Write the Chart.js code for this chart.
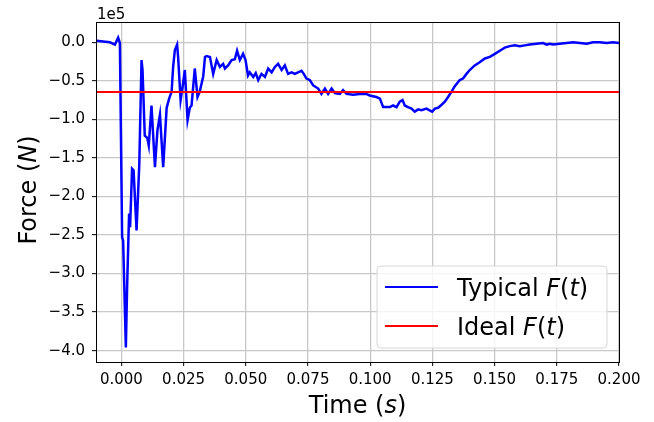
<!DOCTYPE html>
<html>
<head>
<meta charset="utf-8">
<script src="https://cdn.jsdelivr.net/npm/chart.js@4/dist/chart.umd.min.js"></script>
<style>
  html, body { margin: 0; padding: 0; background: #ffffff; }
  #wrap { width: 654px; height: 422px; }
</style>
</head>
<body>
<div id="wrap"><canvas id="c" width="654" height="422"></canvas></div>
<script>
// ---- data (force in units of 1e5 N, time in s) ----
const time = [
  -0.0099,-0.0074,-0.0046,-0.0026,-0.0013,-0.0006,0.0003,0.0007,0.0018,0.0023,
  0.0031,0.0035,0.0043,0.0049,0.0061,0.0072,0.0081,0.0085,0.0094,0.0104,
  0.0110,0.0121,0.0135,0.0145,0.0155,0.0168,0.0182,0.0192,0.0202,0.0208,
  0.0215,0.0224,0.0228,0.0238,0.0246,0.0255,0.0266,0.0275,0.0282,0.0295,
  0.0306,0.0315,0.0329,0.0336,0.0342,0.0356,0.0369,0.0383,0.0396,0.0409,
  0.0416,0.0429,0.0443,0.0456,0.0465,0.0476,0.0489,0.0499,0.0509,0.0516,
  0.0530,0.0540,0.0550,0.0563,0.0577,0.0590,0.0604,0.0617,0.0630,0.0644,
  0.0657,0.0670,0.0684,0.0697,0.0710,0.0724,0.0733,0.0744,0.0757,0.0771,
  0.0791,0.0804,0.0818,0.0831,0.0845,0.0858,0.0878,0.0891,0.0905,0.0931,
  0.0958,0.0985,0.0998,0.1025,0.1039,0.1052,0.1079,0.1092,0.1106,0.1119,
  0.1130,0.1139,0.1152,0.1166,0.1179,0.1193,0.1206,0.1226,0.1237,0.1249,
  0.1260,0.1273,0.1287,0.1300,0.1313,0.1327,0.1340,0.1360,0.1373,0.1387,
  0.1400,0.1420,0.1440,0.1461,0.1481,0.1501,0.1521,0.1541,0.1561,0.1581,
  0.1601,0.1621,0.1641,0.1668,0.1695,0.1709,0.1722,0.1735,0.1762,0.1789,
  0.1816,0.1843,0.1870,0.1896,0.1923,0.1950,0.1976,0.2000
];
const typicalForce = [
  0.02,0.01,0.00,-0.03,0.06,-0.01,-2.53,-2.57,-3.96,-3.18,
  -2.22,-2.40,-1.64,-1.66,-2.44,-1.58,-0.23,-0.36,-1.21,-1.24,
  -1.34,-0.82,-1.62,-1.14,-0.94,-1.62,-0.85,-0.73,-0.64,-0.32,
  -0.10,-0.03,-0.19,-0.75,-0.58,-0.36,-1.01,-0.85,-0.82,-0.34,
  -0.71,-0.64,-0.44,-0.19,-0.18,-0.19,-0.41,-0.23,-0.32,-0.28,
  -0.34,-0.30,-0.23,-0.22,-0.11,-0.23,-0.15,-0.23,-0.43,-0.39,
  -0.45,-0.40,-0.49,-0.41,-0.45,-0.34,-0.39,-0.32,-0.28,-0.36,
  -0.30,-0.41,-0.39,-0.41,-0.39,-0.37,-0.41,-0.47,-0.49,-0.56,
  -0.60,-0.67,-0.60,-0.67,-0.60,-0.66,-0.67,-0.62,-0.67,-0.68,
  -0.67,-0.67,-0.69,-0.71,-0.73,-0.84,-0.84,-0.82,-0.84,-0.77,
  -0.75,-0.82,-0.84,-0.86,-0.90,-0.87,-0.88,-0.86,-0.88,-0.90,
  -0.86,-0.85,-0.81,-0.77,-0.71,-0.64,-0.57,-0.49,-0.47,-0.41,
  -0.36,-0.30,-0.26,-0.21,-0.19,-0.15,-0.11,-0.07,-0.05,-0.04,
  -0.05,-0.04,-0.03,-0.02,-0.01,-0.03,-0.02,-0.03,-0.02,-0.01,
  0.00,-0.01,-0.02,0.00,0.00,-0.01,0.00,-0.01
];
const idealTime = [-0.0102, 0.2];
const idealForce = [-0.645, -0.645];
const xTicks = [0, 0.025, 0.05, 0.075, 0.1, 0.125, 0.15, 0.175, 0.2];
const yTicks = [-4.0, -3.5, -3.0, -2.5, -2.0, -1.5, -1.0, -0.5, 0.0];
const xRange = [-0.0102, 0.2];
const yRange = [-4.147, 0.263];
const scaleLabel = '1e5';
const seriesNames = ['Typical', 'Ideal'];

const FONT = 'DejaVu Sans';

function drawMixed(ctx, parts, x, y, size, align) {
  let total = 0;
  parts.forEach(p => {
    ctx.font = (p.i ? 'italic ' : '') + size + 'px "' + FONT + '"';
    p.w = ctx.measureText(p.t).width;
    total += p.w;
  });
  let cx = align === 'center' ? x - total / 2 : x;
  parts.forEach(p => {
    ctx.font = (p.i ? 'italic ' : '') + size + 'px "' + FONT + '"';
    ctx.fillText(p.t, cx, y);
    cx += p.w;
  });
}
const mathFt = [{t:'F',i:true},{t:'(',i:false},{t:'t',i:true},{t:')',i:false}];

const decor = {
  id: 'decor',
  afterDraw(chart) {
    const ctx = chart.ctx, a = chart.chartArea;
    ctx.save();
    // frame
    ctx.strokeStyle = '#000';
    ctx.lineWidth = 1;
    ctx.strokeRect(Math.round(a.left) + 0.5, Math.round(a.top) + 0.5,
                   Math.round(a.right) - Math.round(a.left), Math.round(a.bottom) - Math.round(a.top));
    ctx.fillStyle = '#000';
    ctx.textBaseline = 'alphabetic';
    // offset label
    ctx.font = '15px "' + FONT + '"';
    ctx.textAlign = 'left';
    ctx.fillText(scaleLabel, a.left + 1, 18.5);
    // x title
    drawMixed(ctx, [{t:'Time (',i:false},{t:'s',i:true},{t:')',i:false}],
              (a.left + a.right) / 2, 412.7, 24, 'center');
    // y title
    ctx.save();
    ctx.translate(36, 190);
    ctx.rotate(-Math.PI / 2);
    drawMixed(ctx, [{t:'Force (',i:false},{t:'N',i:true},{t:')',i:false}], 0, 0, 24, 'center');
    ctx.restore();
    // legend
    const bx = 377, by = 266, bw = 230, bh = 82, r = 4;
    ctx.beginPath();
    ctx.moveTo(bx + r, by);
    ctx.arcTo(bx + bw, by, bx + bw, by + bh, r);
    ctx.arcTo(bx + bw, by + bh, bx, by + bh, r);
    ctx.arcTo(bx, by + bh, bx, by, r);
    ctx.arcTo(bx, by, bx + bw, by, r);
    ctx.closePath();
    ctx.fillStyle = 'rgba(255,255,255,0.8)';
    ctx.fill();
    ctx.strokeStyle = '#d6d6d6';
    ctx.lineWidth = 1;
    ctx.stroke();
    const ds = chart.data.datasets;
    const rows = [287, 326];
    ds.forEach((d, k) => {
      const ry = rows[k];
      ctx.strokeStyle = d.borderColor;
      ctx.lineWidth = 2;
      ctx.beginPath();
      ctx.moveTo(385, ry);
      ctx.lineTo(438, ry);
      ctx.stroke();
      ctx.fillStyle = '#000';
      drawMixed(ctx, [{t: d.label + ' ', i:false}].concat(mathFt.map(p => ({t:p.t, i:p.i}))),
                457, ry + 8.5, 24, 'left');
    });
    ctx.restore();
  }
};

const tickFont = { family: FONT, size: 15 };

new Chart(document.getElementById('c'), {
  type: 'line',
  data: {
    datasets: [
      {
        label: seriesNames[0],
        data: time.map((t, i) => ({ x: t, y: typicalForce[i] })),
        borderColor: '#0000ff',
        borderWidth: 2.5,
        pointRadius: 0,
        tension: 0,
        order: 1
      },
      {
        label: seriesNames[1],
        data: idealTime.map((t, i) => ({ x: t, y: idealForce[i] })),
        borderColor: '#ff0000',
        borderWidth: 2,
        pointRadius: 0,
        tension: 0,
        order: 0
      }
    ]
  },
  options: {
    responsive: false,
    animation: false,
    devicePixelRatio: 1,
    layout: { padding: { top: 22, right: 35, left: 0, bottom: 0 } },
    plugins: { legend: { display: false }, tooltip: { enabled: false } },
    scales: {
      x: {
        type: 'linear',
        min: xRange[0],
        max: xRange[1],
        afterBuildTicks: s => { s.ticks = xTicks.map(v => ({ value: v })); },
        afterFit: s => { s.height = 60; },
        ticks: {
          callback: v => v.toFixed(3),
          font: tickFont,
          color: '#000',
          padding: 5,
          maxRotation: 0,
          autoSkip: false
        },
        grid: { color: '#c8c8c8', lineWidth: 1.3, tickColor: '#000', tickLength: 4, tickWidth: 1 },
        border: { color: '#000', width: 1 }
      },
      y: {
        type: 'linear',
        min: yRange[0],
        max: yRange[1],
        afterBuildTicks: s => { s.ticks = yTicks.map(v => ({ value: v })); },
        afterFit: s => { s.width = 96; },
        ticks: {
          callback: v => (v < 0 ? '\u2212' : '') + Math.abs(v).toFixed(1),
          font: tickFont,
          color: '#000',
          padding: 7,
          autoSkip: false
        },
        grid: { color: '#c8c8c8', lineWidth: 1.3, tickColor: '#000', tickLength: 4, tickWidth: 1 },
        border: { color: '#000', width: 1 }
      }
    }
  },
  plugins: [decor]
});
</script>
</body>
</html>
